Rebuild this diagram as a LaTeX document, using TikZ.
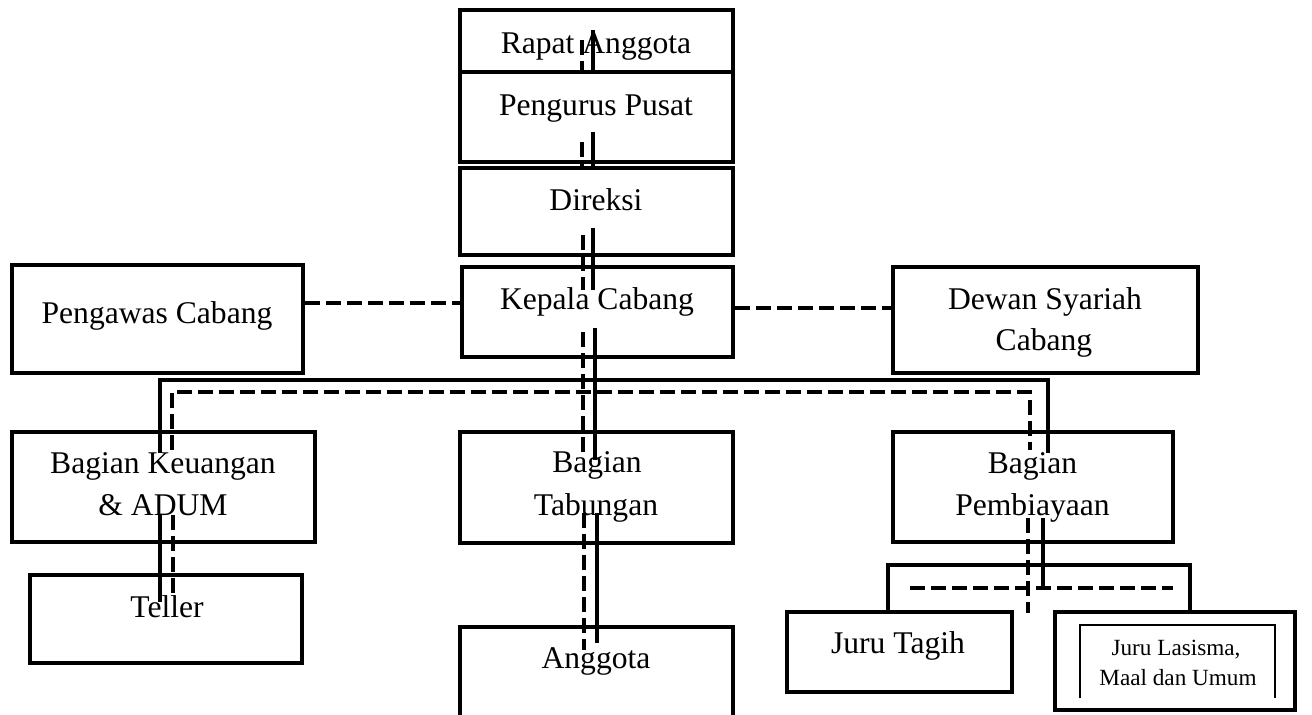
\documentclass[tikz,border=0pt]{standalone}
\usepackage{fontspec}
\setmainfont{Liberation Serif}
\usetikzlibrary{calc}
\begin{document}
\begin{tikzpicture}[x=0.5pt,y=-0.5pt,
  box/.style={draw=black,line width=2.2pt,fill=white,inner sep=0pt,rectangle},
  thinbox/.style={draw=black,line width=1.1pt},
  sline/.style={draw=black,line width=2.2pt},
  dline/.style={draw=black,line width=2.2pt,dash pattern=on 7.5pt off 3pt},
  txt/.style={anchor=base,inner sep=0pt,font=\fontsize{15.8}{21}\selectfont},
  stxt/.style={anchor=base,inner sep=0pt,font=\fontsize{11.6}{15}\selectfont}]
\useasboundingbox (0,0) rectangle (1312,714);
\clip (0,0) rectangle (1312,714);
\fill[white] (0,0) rectangle (1312,714);
% boxes
\node[box,minimum width=136.5pt,minimum height=31pt] (ra) at (596.5,41) {};
\node[box,minimum width=136.5pt,minimum height=45pt] (pp) at (596.5,117) {};
\node[box,minimum width=136.5pt,minimum height=43.5pt] (dr) at (596.5,211.5) {};
\node[box,minimum width=135.5pt,minimum height=45pt] (kc) at (597.5,312) {};
\node[box,minimum width=145.5pt,minimum height=54pt] (pc) at (157.5,319) {};
\node[box,minimum width=152.5pt,minimum height=53pt] (ds) at (1045.5,320) {};
\node[box,minimum width=151.5pt,minimum height=55pt] (bk) at (163.5,487) {};
\node[box,minimum width=136pt,minimum height=44pt] (tl) at (166,619) {};
\node[box,minimum width=136.5pt,minimum height=55.5pt] (bt) at (596.5,487.5) {};
\node[box,minimum width=136.5pt,minimum height=51.5pt] (an) at (596.5,678.5) {};
\node[box,minimum width=140pt,minimum height=55pt] (bp) at (1033,487) {};
\node[box,minimum width=112.5pt,minimum height=40pt] (jt) at (899.5,652) {};
\node[box,minimum width=120pt,minimum height=49pt] (jl) at (1175,661) {};
\draw[thinbox] (1080,698) -- (1080,625) -- (1275,625) -- (1275,698);
% vertical axis coordinates
\coordinate (s1) at (593,0);
\coordinate (d1) at (582,0);
% top chain fragments
\draw[sline] (593,30) -- (ra.south -| s1);
\draw[dline] (582,40) -- (ra.south -| d1);
\draw[sline] (593,132) -- (dr.north -| s1);
\draw[dline] (582,142) -- (dr.north -| d1);
\draw[sline] (593,228) -- (593,290);
\draw[dline] (583,235) -- (583,290);
\draw[sline] (595,328) -- (595,460);
\draw[dline] (583,332) -- (583,455);
\draw[sline] (597,513) -- (597,643);
\draw[dline] (584,513) -- (584,650);
% side dashed links
\draw[dline] (pc.east |- 0,303) -- (kc.west |- 0,303);
\draw[dline] (kc.east |- 0,308) -- (ds.west |- 0,308);
% main bus
\draw[sline] (160,453) -- (160,380) -- (1048,380) -- (1048,453);
\draw[dline] (172,450) -- (172,392) -- (1030,392) -- (1030,450);
% keuangan -> teller
\draw[sline] (160,515) -- (160,602);
\draw[dline] (173,515) -- (173,593);
% pembiayaan -> sub
\draw[sline] (1043,518) -- (1043,590);
\draw[dline] (1028,518) -- (1028,613);
\draw[sline] (jt.north -| 888,0) -- (888,565) -- (1190,565) -- (1190,612);
\draw[dline] (910,588) -- (1173,588);
% texts
\node[txt] (t1) at (596,53) {Rapat Anggota};
\node[txt] (t2) at (596,115) {Pengurus Pusat};
\node[txt] (t3) at (596,210) {Direksi};
\node[txt] (t4) at (597,309) {Kepala Cabang};
\node[txt] (t5) at (157,323) {Pengawas Cabang};
\node[txt] (t6) at (1045,309) {Dewan Syariah};
\node[txt] (t7) at (1044,350) {Cabang};
\node[txt] (t8) at (163,473) {Bagian Keuangan};
\node[txt] (t9) at (163,515) {\& ADUM};
\node[txt] (t10) at (167,617) {Teller};
\node[txt] (t11) at (597,472) {Bagian};
\node[txt] (t12) at (596,515) {Tabungan};
\node[txt] (t13) at (596,668) {Anggota};
\node[txt] (t14) at (1032.5,473) {Bagian};
\node[txt] (t15) at (1032.5,515) {Pembiayaan};
\node[txt] (t16) at (898,653) {Juru Tagih};
\node[stxt] (t17) at (1176,655) {Juru Lasisma,};
\node[stxt] (t18) at (1178,685) {Maal dan Umum};
\end{tikzpicture}
\end{document}
